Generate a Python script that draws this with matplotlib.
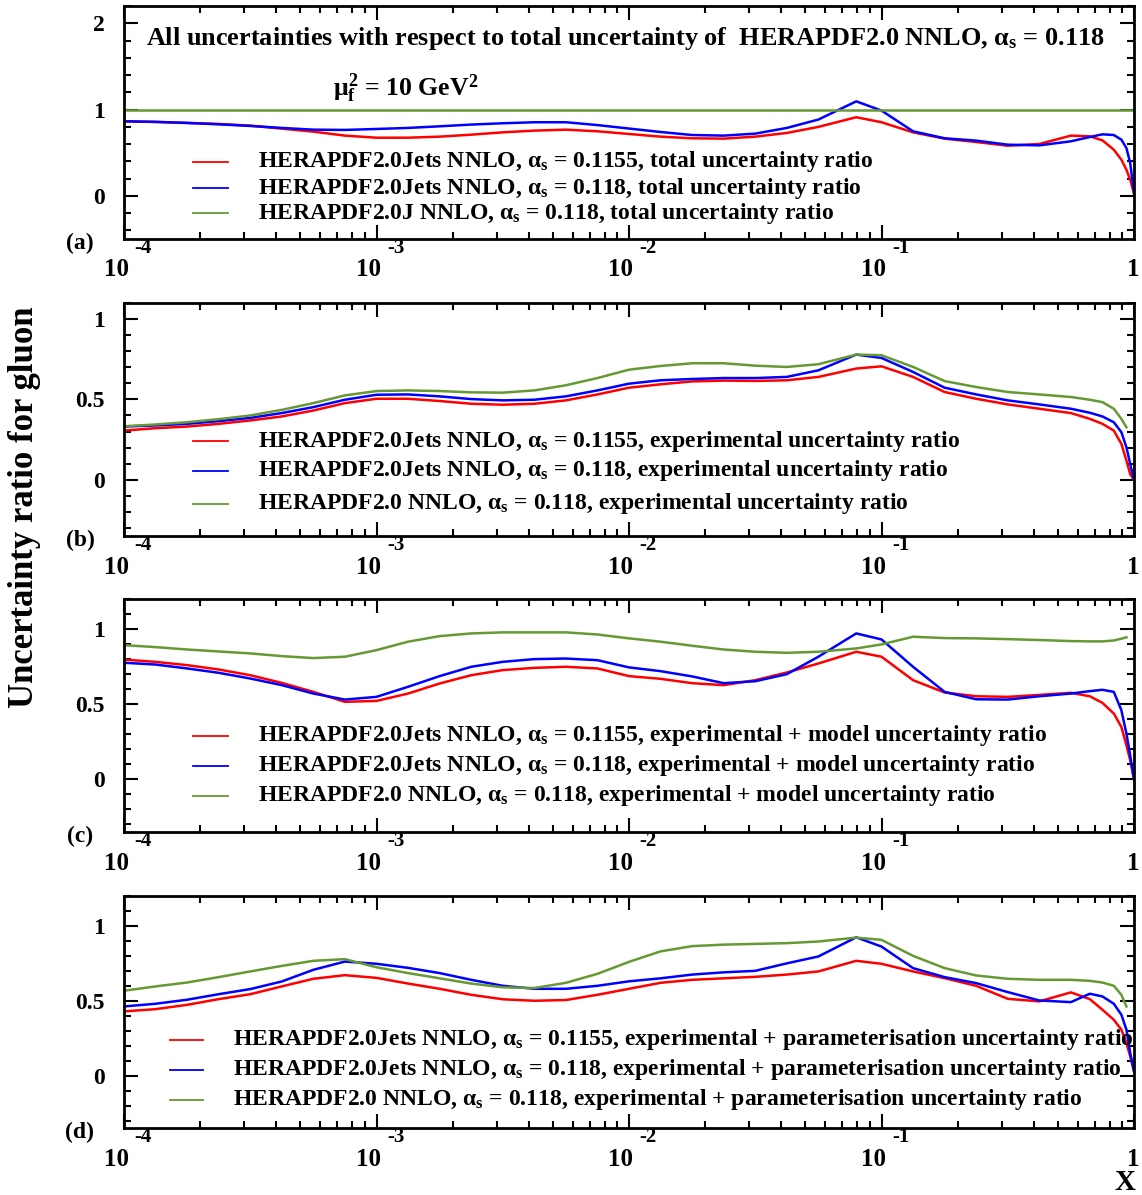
import numpy as np
import matplotlib
matplotlib.use('Agg')
import matplotlib.pyplot as plt
from matplotlib.ticker import MultipleLocator, LogLocator, NullFormatter

plt.rcParams['font.family'] = ['Liberation Serif', 'DejaVu Serif']
plt.rcParams['font.weight'] = 'bold'
plt.rcParams['mathtext.fontset'] = 'custom'
plt.rcParams['mathtext.rm'] = 'Liberation Serif:bold'
plt.rcParams['mathtext.it'] = 'Liberation Serif:bold'
plt.rcParams['mathtext.bf'] = 'Liberation Serif:bold'

W, H = 1142, 1195

# x points (log10 x) shared by all curves
logx = [-4, -3.875, -3.75, -3.625, -3.5, -3.375, -3.25, -3.125, -3.0, -2.875, -2.75,
        -2.625, -2.5, -2.375, -2.25, -2.125, -2.0,
        -1.875, -1.75, -1.625, -1.5, -1.375, -1.25, -1.1, -1.0,
        -0.875, -0.75, -0.625, -0.5, -0.375, -0.25,
        -0.175, -0.125, -0.08, -0.05, -0.03, -0.015, 0.0]
x = 10.0 ** np.array(logx)
nan = np.nan

# (a) total uncertainty ratio
a_red = [0.864, 0.857, 0.845, 0.833, 0.814, 0.779, 0.744, 0.698, 0.674, 0.674, 0.686,
         0.709, 0.736, 0.756, 0.767, 0.748, 0.717,
         0.686, 0.667, 0.663, 0.686, 0.729, 0.799, 0.911, 0.853,
         0.736, 0.663, 0.624, 0.581, 0.601, 0.698,
         0.690, 0.643, 0.535, 0.419, 0.302, 0.186, 0.03]
a_blue = [0.864, 0.857, 0.845, 0.829, 0.810, 0.787, 0.767, 0.764, 0.775, 0.787, 0.806,
          0.826, 0.841, 0.853, 0.853, 0.82, 0.78,
          0.740, 0.705, 0.698, 0.721, 0.787, 0.884, 1.095, 0.988,
          0.748, 0.667, 0.640, 0.593, 0.585, 0.632,
          0.682, 0.713, 0.705, 0.651, 0.554, 0.38, 0.03]
a_green = [1.0] * len(logx)

# (b) experimental uncertainty ratio
b_red = [0.306, 0.321, 0.331, 0.348, 0.369, 0.394, 0.431, 0.477, 0.504, 0.504, 0.490,
         0.473, 0.467, 0.473, 0.494, 0.531, 0.573,
         0.594, 0.612, 0.617, 0.615, 0.619, 0.640, 0.692, 0.706,
         0.640, 0.546, 0.504, 0.469, 0.442, 0.415,
         0.379, 0.348, 0.306, 0.223, 0.119, 0.035, 0.0]
b_blue = [0.331, 0.338, 0.348, 0.365, 0.385, 0.415, 0.452, 0.498, 0.529, 0.531, 0.519,
          0.502, 0.494, 0.498, 0.519, 0.556, 0.598,
          0.619, 0.627, 0.633, 0.633, 0.640, 0.681, 0.779, 0.758,
          0.671, 0.573, 0.531, 0.494, 0.469, 0.442,
          0.417, 0.394, 0.358, 0.296, 0.202, 0.098, 0.0]
b_green = [0.333, 0.344, 0.358, 0.377, 0.400, 0.435, 0.477, 0.525, 0.552, 0.556, 0.552,
           0.544, 0.542, 0.556, 0.588, 0.633, 0.685,
           0.708, 0.725, 0.725, 0.710, 0.702, 0.719, 0.779, 0.775,
           0.702, 0.614, 0.577, 0.546, 0.531, 0.515,
           0.498, 0.483, 0.442, 0.379, 0.327, nan, nan]

# (c) experimental + model uncertainty ratio
c_red = [0.797, 0.782, 0.760, 0.731, 0.693, 0.642, 0.582, 0.516, 0.522, 0.571, 0.638,
         0.693, 0.727, 0.742, 0.749, 0.738, 0.687,
         0.669, 0.640, 0.627, 0.660, 0.711, 0.771, 0.849, 0.816,
         0.660, 0.578, 0.553, 0.549, 0.562, 0.576,
         0.553, 0.509, 0.438, 0.349, 0.227, 0.127, 0.0]
c_blue = [0.776, 0.764, 0.738, 0.709, 0.671, 0.627, 0.571, 0.531, 0.549, 0.616, 0.687,
          0.749, 0.782, 0.800, 0.804, 0.793, 0.745,
          0.720, 0.685, 0.640, 0.653, 0.700, 0.816, 0.971, 0.931,
          0.749, 0.582, 0.533, 0.531, 0.553, 0.571,
          0.587, 0.596, 0.582, 0.460, 0.304, 0.159, 0.0]
c_green = [0.893, 0.880, 0.864, 0.851, 0.838, 0.820, 0.807, 0.816, 0.860, 0.916, 0.953,
           0.971, 0.978, 0.978, 0.978, 0.964, 0.938,
           0.916, 0.889, 0.864, 0.849, 0.842, 0.849, 0.871, 0.898,
           0.949, 0.940, 0.938, 0.933, 0.927, 0.920,
           0.918, 0.918, 0.924, 0.936, 0.945, nan, nan]

# (d) experimental + parameterisation uncertainty ratio
d_red = [0.429, 0.444, 0.473, 0.511, 0.544, 0.596, 0.647, 0.671, 0.653, 0.615, 0.58,
         0.54, 0.51, 0.50, 0.505, 0.54, 0.58,
         0.62, 0.64, 0.65, 0.66, 0.675, 0.696, 0.767, 0.747,
         0.696, 0.651, 0.600, 0.513, 0.496, 0.556,
         0.511, 0.44, 0.373, 0.307, 0.218, 0.129, 0.029]
d_blue = [0.462, 0.480, 0.507, 0.544, 0.578, 0.629, 0.707, 0.762, 0.747, 0.72, 0.685,
          0.64, 0.60, 0.58, 0.58, 0.60, 0.63,
          0.65, 0.675, 0.69, 0.70, 0.75, 0.796, 0.924, 0.862,
          0.718, 0.658, 0.618, 0.558, 0.502, 0.491,
          0.547, 0.529, 0.480, 0.407, 0.307, 0.151, 0.029]
d_green = [0.567, 0.596, 0.622, 0.658, 0.696, 0.733, 0.767, 0.778, 0.724, 0.685, 0.65,
           0.615, 0.59, 0.585, 0.62, 0.68, 0.76,
           0.83, 0.865, 0.875, 0.88, 0.885, 0.896, 0.922, 0.907,
           0.80, 0.718, 0.669, 0.647, 0.640, 0.640,
           0.633, 0.622, 0.60, 0.540, 0.462, nan, nan]

colors = ['#ff0000', '#0000ff', '#669933']

legends = {
    'a': ['HERAPDF2.0Jets NNLO, $\\alpha_s$ = 0.1155, total uncertainty ratio',
          'HERAPDF2.0Jets NNLO, $\\alpha_s$ = 0.118, total uncertainty ratio',
          'HERAPDF2.0J NNLO, $\\alpha_s$ = 0.118, total uncertainty ratio'],
    'b': ['HERAPDF2.0Jets NNLO, $\\alpha_s$ = 0.1155, experimental uncertainty ratio',
          'HERAPDF2.0Jets NNLO, $\\alpha_s$ = 0.118, experimental uncertainty ratio',
          'HERAPDF2.0 NNLO, $\\alpha_s$ = 0.118, experimental uncertainty ratio'],
    'c': ['HERAPDF2.0Jets NNLO, $\\alpha_s$ = 0.1155, experimental + model uncertainty ratio',
          'HERAPDF2.0Jets NNLO, $\\alpha_s$ = 0.118, experimental + model uncertainty ratio',
          'HERAPDF2.0 NNLO, $\\alpha_s$ = 0.118, experimental + model uncertainty ratio'],
    'd': ['HERAPDF2.0Jets NNLO, $\\alpha_s$ = 0.1155, experimental + parameterisation uncertainty ratio',
          'HERAPDF2.0Jets NNLO, $\\alpha_s$ = 0.118, experimental + parameterisation uncertainty ratio',
          'HERAPDF2.0 NNLO, $\\alpha_s$ = 0.118, experimental + parameterisation uncertainty ratio'],
}

panels = [
    ('a', [a_red, a_blue, a_green], (6, 239), (-0.5, 2.2), [0, 1, 2], ['0', '1', '2'], 0.2,
     [162, 188, 213], (193, 228, 258)),
    ('b', [b_red, b_blue, b_green], (303, 536), (-0.35, 1.1), [0, 0.5, 1], ['0', '0.5', '1'], 0.1,
     [441, 471, 504], (193, 228, 258)),
    ('c', [c_red, c_blue, c_green], (599, 832), (-0.35, 1.2), [0, 0.5, 1], ['0', '0.5', '1'], 0.1,
     [736, 766, 796], (193, 228, 258)),
    ('d', [d_red, d_blue, d_green], (896, 1128), (-0.35, 1.2), [0, 0.5, 1], ['0', '0.5', '1'], 0.1,
     [1040, 1070, 1100], (170, 203, 233)),
]

fig = plt.figure(figsize=(W / 100, H / 100), dpi=100)
left, right = 124, 1134

for name, series, (top, bot), ylim, yt, ytl, minor, rows, (lx0, lx1, tx) in panels:
    ax = fig.add_axes([left / W, 1 - bot / H, (right - left) / W, (bot - top) / H])
    ax.set_xscale('log')
    ax.set_xlim(1e-4, 1)
    ax.set_ylim(*ylim)
    for ys, c in zip(series, colors):
        ax.plot(x, ys, color=c, lw=1.8, clip_on=True)
    ax.set_yticks(yt)
    ax.set_yticklabels(ytl, fontsize=17, fontweight='bold')
    ax.yaxis.set_minor_locator(MultipleLocator(minor))
    ax.xaxis.set_major_locator(LogLocator(base=10, numticks=10))
    ax.xaxis.set_minor_locator(LogLocator(base=10, subs=np.arange(2, 10), numticks=20))
    ax.xaxis.set_major_formatter(NullFormatter())
    ax.xaxis.set_minor_formatter(NullFormatter())
    ax.tick_params(which='both', direction='in', top=True, right=True, width=1.5)
    ax.tick_params(which='major', length=10, pad=14)
    ax.tick_params(which='minor', length=5)
    for s in ax.spines.values():
        s.set_linewidth(2)

    # x tick labels in 10^n style
    for e in [-4, -3, -2, -1]:
        ax.annotate('10', xy=(10.0 ** e, 0), xycoords=('data', 'axes fraction'),
                    xytext=(-8, -31), textcoords='offset pixels', ha='center', va='center',
                    fontsize=18, fontweight='bold', annotation_clip=False)
        ax.annotate(str(e), xy=(10.0 ** e, 0), xycoords=('data', 'axes fraction'),
                    xytext=(19, -9), textcoords='offset pixels', ha='center', va='center',
                    fontsize=15, fontweight='bold', annotation_clip=False)
    ax.annotate('1', xy=(1, 0), xycoords=('data', 'axes fraction'),
                xytext=(-1, -31), textcoords='offset pixels', ha='center', va='center',
                fontsize=18, fontweight='bold', annotation_clip=False)

    # panel letter
    fig.text(80 / W, 1 - (bot + 4) / H, '(%s)' % name, ha='center', va='center',
             fontsize=17, fontweight='bold')

    # legend rows
    for yrow, label, c in zip(rows, legends[name], colors):
        fig.add_artist(plt.Line2D([lx0 / W, lx1 / W], [1 - yrow / H, 1 - yrow / H],
                                  color=c, lw=1.3))
        fig.text(tx / W, 1 - yrow / H, label, ha='left', va='center',
                 fontsize=17, fontweight='bold')

fig.text(146 / W, 1 - 38 / H,
         'All uncertainties with respect to total uncertainty of  HERAPDF2.0 NNLO, $\\alpha_s$ = 0.118',
         ha='left', va='center', fontsize=18.9, fontweight='bold')
fig.text(333 / W, 1 - 88 / H, '$\\mu_f^2$ = 10 GeV$^2$', ha='left', va='center',
         fontsize=18.5, fontweight='bold')
fig.text(25 / W, 1 - 507 / H, 'Uncertainty ratio for gluon', rotation=90,
         ha='center', va='center', fontsize=25, fontweight='bold')
fig.text(1125 / W, 1 - 1183 / H, 'X', ha='center', va='center', fontsize=21,
         fontweight='bold')

fig.savefig('out.png', dpi=100)
